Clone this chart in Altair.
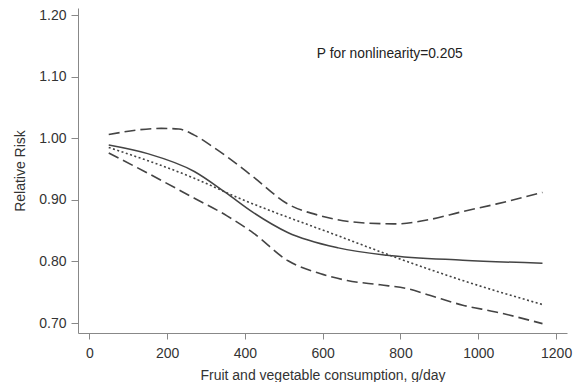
import altair as alt
import pandas as pd

# Point estimate (solid)
est_x = [50, 150, 270, 350, 420, 510, 640, 765, 960, 1165]
est_y = [0.989, 0.975, 0.946, 0.912, 0.880, 0.847, 0.822, 0.810, 0.802, 0.797]

# Linear model (dotted)
lin_x = [50, 270, 384, 638, 790, 960, 1165]
lin_y = [0.985, 0.935, 0.903, 0.842, 0.806, 0.769, 0.730]

# Upper 95% CI (dashed)
up_x = [50, 185, 230, 270, 320, 354, 422, 511, 595, 720, 790, 875, 960, 1045, 1165]
up_y = [1.006, 1.016, 1.015, 1.005, 0.985, 0.970, 0.937, 0.893, 0.874, 0.862, 0.861, 0.868, 0.881, 0.893, 0.912]

# Lower 95% CI (dashed)
lo_x = [50, 142, 269, 354, 422, 511, 595, 663, 748, 816, 875, 960, 1045, 1165]
lo_y = [0.976, 0.946, 0.903, 0.874, 0.846, 0.801, 0.780, 0.769, 0.762, 0.756, 0.745, 0.729, 0.718, 0.699]

x_ticks = [0, 200, 400, 600, 800, 1000, 1200]
y_ticks = [0.70, 0.80, 0.90, 1.00, 1.10, 1.20]

annotation = "P for nonlinearity=0.205"
ann_x = [585]
ann_y = [1.137]

FONT = "Liberation Sans"
LINE = "#444444"

xscale = alt.Scale(domain=[-29, 1228], nice=False, zero=False)
yscale = alt.Scale(domain=[0.6838, 1.2114], nice=False, zero=False)

xaxis = alt.Axis(values=x_ticks, format="d", title="Fruit and vegetable consumption, g/day",
                 grid=False, tickSize=6, labelPadding=7, titlePadding=8,
                 labelFontSize=14, titleFontSize=14, titleFontWeight="normal",
                 labelFont=FONT, titleFont=FONT, labelColor="#333333", titleColor="#333333",
                 domainColor="#888888", tickColor="#888888", labelFlush=False)
yaxis = alt.Axis(values=y_ticks, format=".2f", title="Relative Risk",
                 grid=False, tickSize=7, labelPadding=5, titlePadding=11,
                 labelFontSize=14, titleFontSize=14, titleFontWeight="normal",
                 labelFont=FONT, titleFont=FONT, labelColor="#333333", titleColor="#333333",
                 domainColor="#888888", tickColor="#888888", labelFlush=False)


def line_layer(xs, ys, dash, width):
    df = pd.DataFrame({"x": xs, "y": ys})
    kwargs = dict(color=LINE, strokeWidth=width, interpolate="monotone", clip=True)
    if dash is not None:
        kwargs["strokeDash"] = dash
    return alt.Chart(df).mark_line(**kwargs).encode(
        x=alt.X("x:Q", scale=xscale, axis=xaxis),
        y=alt.Y("y:Q", scale=yscale, axis=yaxis),
    )


est = line_layer(est_x, est_y, None, 1.5)
lin = line_layer(lin_x, lin_y, [2, 2.5], 1.6)
up = line_layer(up_x, up_y, [11, 5], 1.6)
lo = line_layer(lo_x, lo_y, [11, 5], 1.6)

ann_df = pd.DataFrame({"x": ann_x, "y": ann_y, "t": [annotation]})
ann = alt.Chart(ann_df).mark_text(align="left", baseline="middle", font=FONT, fontSize=13.8,
                                  color="#222222").encode(
    x=alt.X("x:Q", scale=xscale, axis=xaxis),
    y=alt.Y("y:Q", scale=yscale, axis=yaxis),
    text="t:N",
)

chart = alt.layer(est, lin, up, lo, ann).properties(
    width=489, height=325,
    autosize=alt.AutoSizeParams(type="none"),
    padding={"left": 70, "top": 0, "right": 6, "bottom": 49},
    background="white",
).configure_view(stroke=None)

chart.save("out.html", embed_options={"renderer": "svg", "actions": False})
